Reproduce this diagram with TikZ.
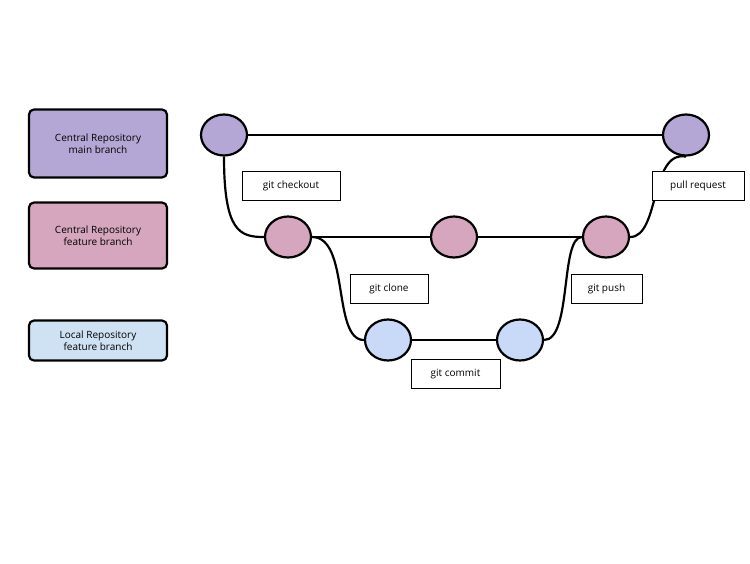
\documentclass[tikz,border=0pt]{standalone}
\usepackage{fontspec}
\setmainfont{Open Sans}
\usetikzlibrary{shapes.geometric}
\definecolor{cpurple}{HTML}{B4A7D6}
\definecolor{cpink}{HTML}{D5A6BD}
\definecolor{cblue}{HTML}{C9DAF8}
\definecolor{lblue}{HTML}{CFE2F3}
\begin{document}
\begin{tikzpicture}[x=1pt,y=-1pt,
  legend/.style={draw,line width=2.2pt,rounded corners=5pt,minimum width=138pt,align=center,font=\fontsize{10}{12}\selectfont},
  commitnode/.style={draw,line width=2.2pt,ellipse,minimum width=46pt,minimum height=41pt,inner sep=0pt},
  lbl/.style={draw,fill=white,line width=0.8pt,inner sep=0pt,minimum height=29pt,font=\fontsize{10}{12}\selectfont},
  link/.style={line width=2.2pt}]
\useasboundingbox (0,0) rectangle (750,563);
\node[legend,fill=cpurple,minimum height=68pt] (L1) at (98,143.5) {Central Repository\\main branch};
\node[legend,fill=cpink,minimum height=66pt] (L2) at (98,235.5) {Central Repository\\feature branch};
\node[legend,fill=lblue,minimum height=40pt] (L3) at (98,340.5) {Local Repository\\feature branch};
\node[commitnode,fill=cpurple] (A) at (224,135) {};
\node[commitnode,fill=cpurple] (E) at (686,135) {};
\node[commitnode,fill=cpink] (B) at (288,237) {};
\node[commitnode,fill=cpink] (C) at (454,237) {};
\node[commitnode,fill=cpink] (D) at (606,237) {};
\node[commitnode,fill=cblue] (F) at (388,340) {};
\node[commitnode,fill=cblue] (G) at (520,340) {};
\draw[link] (A.east) -- (E.west);
\draw[link] (B.east) -- (C.west);
\draw[link] (C.east) -- (D.west);
\draw[link] (F.east) -- (G.west);
\draw[link] (A.south) .. controls (224,232) and (240,237) .. (B.west);
\draw[link] (B.east) .. controls (350,237) and (332,340) .. (F.west);
\draw[link] (G.east) .. controls (572,340) and (560,237) .. (D.west);
\draw[link] (D.east) .. controls (660,237) and (650,150) .. (E.south);
\node[lbl,minimum width=98pt] (t1) at (291,186) {git checkout};
\node[lbl,minimum width=78pt] (t2) at (389,289) {git clone};
\node[lbl,minimum width=71pt] (t3) at (606.5,289) {git push};
\node[lbl,minimum width=92pt] (t4) at (698,186) {pull request};
\node[lbl,minimum width=89pt] (t5) at (455.5,374) {git commit};
\end{tikzpicture}
\end{document}
